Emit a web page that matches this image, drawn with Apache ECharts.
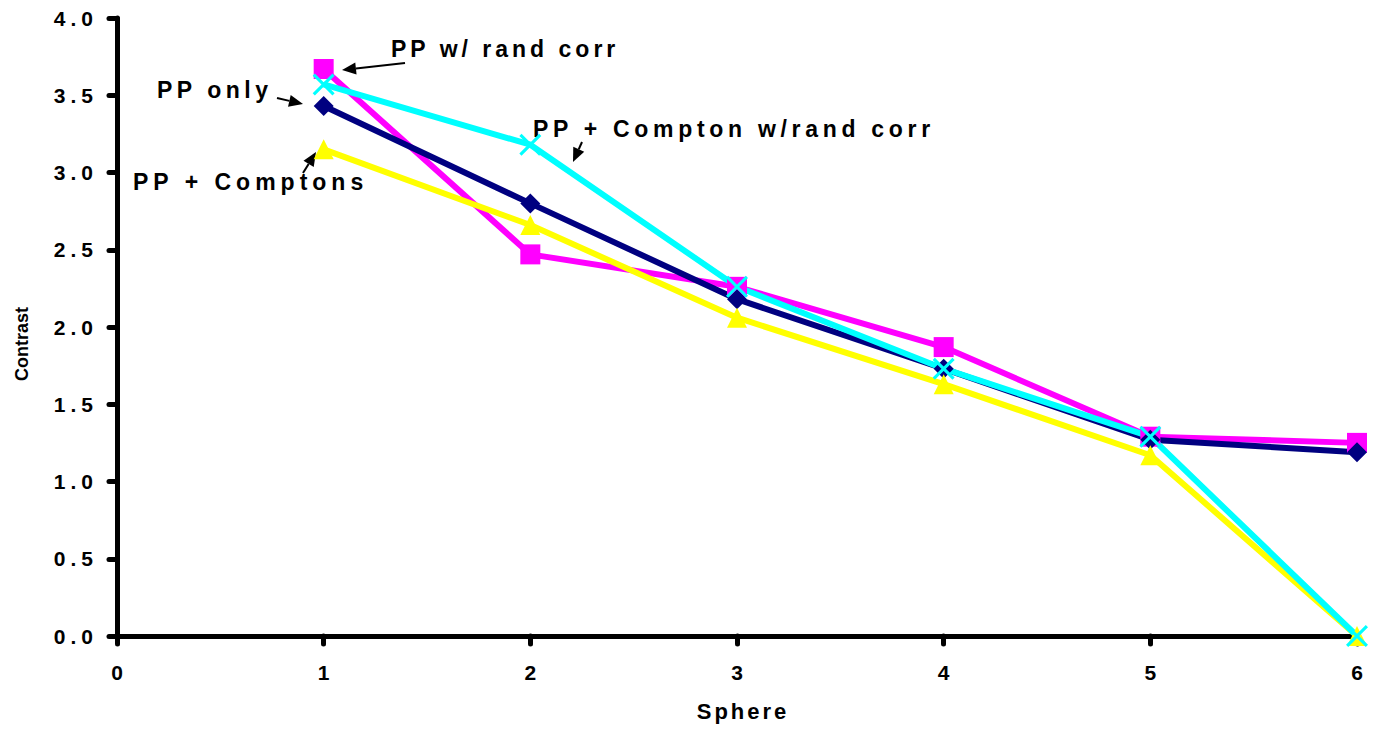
<!DOCTYPE html>
<html>
<head>
<meta charset="utf-8">
<script src="https://cdn.jsdelivr.net/npm/echarts@6.0.0/dist/echarts.min.js"></script>
<style>
  html, body { margin: 0; padding: 0; background: #fff; }
  #main { width: 1377px; height: 732px; letter-spacing: 4px; }
</style>
</head>
<body>
<div id="main"></div>
<script>
// sphere index on the x axis
var sphere = [1, 2, 3, 4, 5, 6];

// contrast per sphere
var ppOnly = [3.43, 2.80, 2.18, 1.73, 1.27, 1.19];
var ppRandCorr = [3.67, 2.47, 2.26, 1.87, 1.29, 1.25];
var ppComptons = [3.15, 2.66, 2.06, 1.63, 1.17, 0.00];
var ppComptonRandCorr = [3.57, 3.18, 2.26, 1.73, 1.29, 0.00];

var yTicks = ['0.0', '0.5', '1.0', '1.5', '2.0', '2.5', '3.0', '3.5', '4.0'];

var FONT = '"Liberation Sans", Arial, sans-serif';
var crossPath = 'path://M0,1 L1,0 L10,9 L9,10 Z M9,0 L10,1 L1,10 L0,9 Z';

function pairs(vals) {
  return sphere.map(function (x, i) { return [x, vals[i]]; });
}

function lineSeries(name, vals, color, symbol, size) {
  return {
    name: name,
    type: 'line',
    data: pairs(vals),
    symbol: symbol,
    symbolSize: size,
    clip: false,
    lineStyle: { color: color, width: 6 },
    itemStyle: { color: color },
    emphasis: { disabled: true }
  };
}

// arrow from tail (x1,y1) to tip (x2,y2)
function arrow(x1, y1, x2, y2) {
  var dx = x2 - x1, dy = y2 - y1;
  var len = Math.sqrt(dx * dx + dy * dy);
  var ux = dx / len, uy = dy / len;
  var hl = 14, hw = 6;
  var bx = x2 - ux * hl, by = y2 - uy * hl;
  return [{
    type: 'line',
    shape: { x1: x1, y1: y1, x2: bx, y2: by },
    style: { stroke: '#000', lineWidth: 2 }
  }, {
    type: 'polygon',
    shape: { points: [[x2, y2], [bx - uy * hw, by + ux * hw], [bx + uy * hw, by - ux * hw]] },
    style: { fill: '#000' }
  }];
}

function label(text, x, y) {
  return {
    type: 'text',
    x: x,
    y: y,
    style: {
      text: text,
      font: 'bold 23px ' + FONT,
      fill: '#000',
      textAlign: 'left',
      textVerticalAlign: 'middle'
    }
  };
}

var graphics = [
  label('PP w/ rand corr', 391, 49),
  label('PP only', 157, 90),
  label('PP + Comptons', 133, 182),
  label('PP + Compton w/rand corr', 533, 129)
]
  .concat(arrow(405, 63, 342, 70))
  .concat(arrow(277, 98, 303, 104))
  .concat(arrow(303, 173, 316, 152))
  .concat(arrow(582, 142, 573, 162));

var chart = echarts.init(document.getElementById('main'), null, { renderer: 'svg' });

var option = {
  animation: false,
  backgroundColor: '#fff',
  grid: { left: 117, right: 20, top: 18, bottom: 96, outerBoundsMode: 'none' },
  xAxis: {
    type: 'value',
    min: 0,
    max: 6,
    interval: 1,
    name: 'Sphere',
    nameLocation: 'middle',
    nameGap: 64,
    nameTextStyle: { fontFamily: FONT, fontWeight: 'bold', fontSize: 22, color: '#000', padding: [0, 0, 0, 12] },
    axisLine: { show: true, onZero: false, lineStyle: { color: '#000', width: 5, cap: 'round' } },
    axisTick: { show: true, inside: false, length: 8, lineStyle: { color: '#000', width: 5, cap: 'round' } },
    axisLabel: { margin: 26, fontFamily: FONT, fontWeight: 'bold', fontSize: 21, color: '#000' },
    splitLine: { show: false }
  },
  yAxis: {
    type: 'value',
    min: 0,
    max: 4,
    interval: 0.5,
    name: 'Contrast',
    nameLocation: 'middle',
    nameGap: 86,
    nameRotate: 90,
    nameTextStyle: { fontFamily: FONT, fontWeight: 'bold', fontSize: 18, color: '#000', padding: [0, 34, 0, 0] },
    axisLine: { show: true, onZero: false, lineStyle: { color: '#000', width: 5, cap: 'round' } },
    axisTick: { show: true, inside: false, length: 8, lineStyle: { color: '#000', width: 5, cap: 'round' } },
    axisLabel: {
      margin: 19,
      fontFamily: FONT,
      fontWeight: 'bold',
      fontSize: 21,
      color: '#000',
      formatter: function (v) { return yTicks[Math.round(v * 2)]; }
    },
    splitLine: { show: false }
  },
  series: [
    lineSeries('PP w/ rand corr', ppRandCorr, '#ff00ff', 'rect', 20),
    lineSeries('PP only', ppOnly, '#000080', 'diamond', 20),
    lineSeries('PP + Comptons', ppComptons, '#ffff00', 'triangle', 20),
    lineSeries('PP + Compton w/rand corr', ppComptonRandCorr, '#00ffff', crossPath, 22)
  ],
  graphic: graphics
};

chart.setOption(option);

// spacing per text kind, like the original's wide type
var textSpacing = {
  'Contrast': 0,
  'Sphere': 3,
  'PP w/ rand corr': 4,
  'PP only': 4.5,
  'PP + Comptons': 5,
  'PP + Compton w/rand corr': 4.7
};
function spaceTexts() {
  document.querySelectorAll('#main text').forEach(function (t) {
    var s = t.textContent;
    var sp = 4;
    if (s in textSpacing) sp = textSpacing[s];
    else if (/^[0-9]$/.test(s)) sp = 0;
    else if (/^[0-9]/.test(s)) sp = 5;
    t.style.letterSpacing = sp + 'px';
  });
}
chart.on('finished', spaceTexts);
spaceTexts();
</script>
</body>
</html>
